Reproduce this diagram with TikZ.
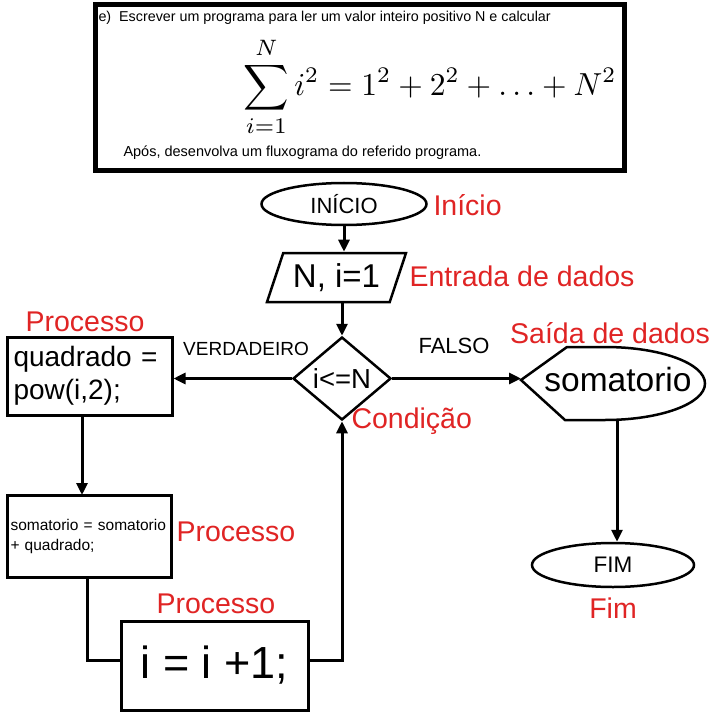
\documentclass[tikz,border=0pt]{standalone}
\usepackage{fontspec}
\setmainfont{Liberation Sans}
\usepackage{graphicx}
\usetikzlibrary{shapes.geometric,arrows.meta}
\definecolor{lblred}{RGB}{224,36,36}
\newcommand\fsz[2]{\fontsize{#1}{#2}\selectfont}
\begin{document}
\begin{tikzpicture}[x=1pt,y=-1pt,
  line width=3pt,
  arr/.style={-{Triangle[length=12pt,width=11pt]}},
  lbl/.style={text=lblred,inner sep=0pt,font=\fsz{28.5pt}{32pt}},
  procbox/.style={draw,rectangle,inner sep=0pt},
  term/.style={draw,ellipse,line width=2.5pt,inner sep=0pt},
]
\useasboundingbox (0,0) rectangle (725,727);
\fill[white] (0,0) rectangle (725,727);

% task frame
\node[draw,line width=5pt,minimum width=529pt,minimum height=166pt,anchor=north west,inner sep=0pt] (task) at (92.5,2.5) {};
\node[anchor=west,inner sep=0pt,font=\fsz{14.3pt}{16pt}] (t1) at (97,18) {e)\hspace{8pt}Escrever um programa para ler um valor inteiro positivo N e calcular};
\node[anchor=north west,inner sep=0pt] (formula) at (242,36) {\resizebox*{373pt}{99pt}{$\displaystyle\sum_{i=1}^{N} i^2 = 1^2 + 2^2 + \ldots + N^2$}};
\node[anchor=west,inner sep=0pt,font=\fsz{14.5pt}{16pt}] (t2) at (122,153) {Após, desenvolva um fluxograma do referido programa.};

% flowchart nodes
\node[term,minimum width=165pt,minimum height=42pt,font=\fsz{22pt}{24pt}] (start) at (344,204) {INÍCIO};
\node[draw,trapezium,trapezium left angle=60,trapezium right angle=120,trapezium stretches body,
      minimum width=139pt,minimum height=49pt,inner sep=0pt,line width=2.5pt,font=\fsz{33pt}{36pt}] (in) at (336.5,277.5) {N, i=1};
\node[draw,diamond,aspect=1.18,minimum width=98pt,minimum height=83pt,inner sep=0pt,line width=2.5pt,font=\fsz{27.5pt}{30pt}] (cond) at (342,378.5) {i<=N};
\node[procbox,minimum width=165pt,minimum height=78pt,text width=152pt,inner xsep=6.5pt,align=left,font=\fsz{28pt}{33pt}] (p1) at (89.5,376) {quadrado =\\pow(i,2);};
\node[procbox,minimum width=164pt,minimum height=82pt,text width=157pt,inner xsep=3.5pt,align=left,font=\fsz{15.5pt}{20pt}] (p2) at (89,536) {somatorio = somatorio\\+ quadrado;};
\node[procbox,minimum width=187pt,minimum height=89pt,font=\fsz{45pt}{48pt}] (p3) at (214.5,665.5) {i = i +1;};

% display shape
\coordinate (dl) at (521,380);
\coordinate (db) at (617,420);
\draw[line width=2.5pt] (dl) -- (567,347) -- (605,347) arc[start angle=90,end angle=-90,x radius=100pt,y radius=36.5pt] -- (565,420) -- cycle;
\node[inner sep=0pt,font=\fsz{33.5pt}{36pt}] (disp) at (618,380) {somatorio};
\node[term,minimum width=162pt,minimum height=44pt,font=\fsz{22.5pt}{24pt}] (fim) at (613,565) {FIM};

% connectors
\draw[arr] (start.south) -- (start.south |- in.north);
\draw[arr] (cond.north |- in.south) -- (cond.north);
\draw[arr] (cond.west) -- (p1.east |- cond.west);
\draw[arr] (82,415) -- (82,495);
\draw (87,577) -- (87,660) -- (p3.west |- 0,660);
\draw[arr] (p3.east |- 0,660) -- (cond.south |- 0,660) -- (cond.south);
\draw[arr] (cond.east) -- (cond.east -| dl);
\draw[arr] (db) -- (db |- fim.north);

% branch labels
\node[inner sep=0pt,font=\fsz{19pt}{21pt}] (vl) at (246,349) {VERDADEIRO};
\node[inner sep=0pt,font=\fsz{22pt}{24pt}] (fl) at (454,346) {FALSO};

% red labels
\node[lbl,anchor=west] (l1) at (432,205) {Início};
\node[lbl,anchor=west] (l2) at (408,276) {Entrada de dados};
\node[lbl] (l3) at (85,322) {Processo};
\node[lbl,anchor=west] (l4) at (350,421) {Condição};
\node[lbl] (l5) at (610,333) {Saída de dados};
\node[lbl,anchor=west] (l6) at (175,532) {Processo};
\node[lbl,anchor=west] (l7) at (155,604) {Processo};
\node[lbl] (l8) at (613,608) {Fim};
\end{tikzpicture}
\end{document}
